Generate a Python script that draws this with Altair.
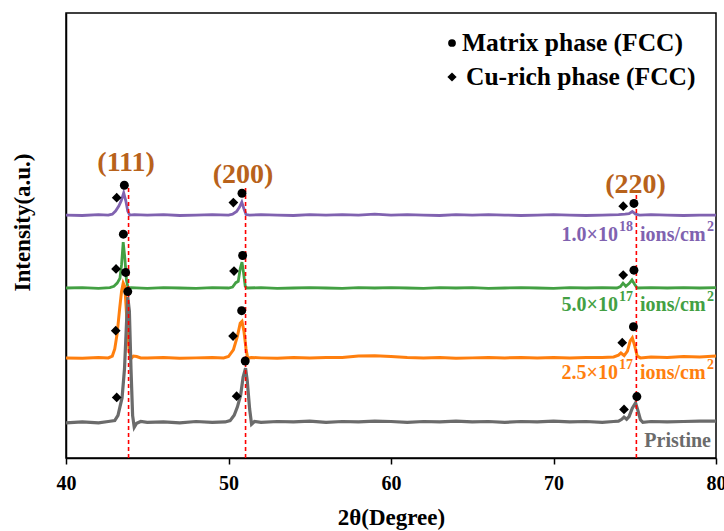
import altair as alt
import pandas as pd

FONT = "Liberation Serif"

# ---- XRD patterns (2θ, stacked intensity in a.u.) ----
pristine_pts = [(40, 7.9), (41, 8.1), (42, 7.9), (42.6, 8.2), (43.0, 8.4), (43.2, 9.6), (43.32, 11.5),
                (43.45, 13.5), (43.6, 20), (43.72, 30), (43.8, 36.2), (43.9, 33), (44.0, 20), (44.1, 9.5),
                (44.2, 6.9), (44.35, 7.8), (44.6, 8.2), (45, 8.0), (46, 8.1), (47, 7.9), (48, 8.2), (49, 8.0),
                (49.8, 8.1), (50.1, 8.4), (50.35, 9.6), (50.55, 11.5), (50.75, 14.2), (50.9, 18.2), (51.05, 20.2),
                (51.15, 17.5), (51.3, 11), (51.42, 7.6), (51.6, 8.2), (52, 8.0), (53, 8.2), (54, 8.1), (55, 8.3),
                (56, 8.0), (57, 8.2), (58, 8.1), (59, 8.3), (60, 8.2), (61, 8.0), (62, 8.2), (63, 8.1), (64, 8.3),
                (65, 8.1), (66, 8.2), (67, 8.0), (68, 8.2), (69, 8.1), (70, 8.3), (71, 8.1), (72, 8.2), (73, 8.0),
                (73.7, 8.2), (74.0, 8.3), (74.2, 8.7), (74.34, 9.2), (74.5, 8.7), (74.65, 9.3), (74.85, 11.2),
                (75.05, 12.4), (75.2, 10.6), (75.35, 8.6), (75.5, 8.0), (76, 8.2), (77, 8.1), (78, 8.2),
                (79, 8.3), (80, 8.3)]

dose25_pts = [(40, 22.5), (41, 22.4), (42, 22.6), (42.6, 22.5), (42.85, 22.9), (43.0, 24.5), (43.15, 28),
              (43.3, 33.5), (43.42, 37.5), (43.52, 39.3), (43.62, 38.5), (43.75, 31), (43.88, 24), (44.0, 22.3),
              (44.15, 22.9), (44.35, 22.8), (44.6, 22.5), (45, 22.5), (46, 22.6), (47, 22.4), (48, 22.5),
              (49, 22.6), (49.7, 22.5), (50.0, 22.8), (50.3, 24.3), (50.55, 27.4), (50.72, 30.3), (50.83, 30.7),
              (50.95, 28.5), (51.08, 24.5), (51.18, 22.4), (51.4, 22.6), (52, 22.5), (53, 22.4), (54, 22.6),
              (55, 22.5), (56, 22.6), (57, 22.6), (58, 22.9), (59, 23.0), (60, 22.8), (61, 22.6), (62, 22.5),
              (63, 22.6), (64, 22.4), (65, 22.5), (66, 22.6), (67, 22.5), (68, 22.6), (69, 22.5), (70, 22.6),
              (71, 22.5), (72, 22.6), (73, 22.6), (73.7, 22.7), (74.0, 23.1), (74.15, 23.6), (74.35, 23.0),
              (74.55, 24.0), (74.72, 26.3), (74.85, 27.0), (75.0, 25.2), (75.15, 22.9), (75.35, 22.5),
              (76, 22.7), (77, 22.6), (78, 22.8), (79, 22.7), (80, 22.9)]

dose50_pts = [(40, 38.2), (41, 38.3), (42, 38.1), (42.7, 38.3), (42.95, 38.6), (43.15, 39.3), (43.32, 40.4),
              (43.42, 43.5), (43.52, 48.5), (43.62, 45), (43.72, 40), (43.82, 38.2), (44, 38.3), (45, 38.1),
              (46, 38.3), (47, 38.2), (48, 38.1), (49, 38.3), (50, 38.2), (50.25, 38.4), (50.45, 39.4),
              (50.6, 39.7), (50.72, 42.5), (50.83, 44.0), (50.93, 41.5), (51.03, 38.6), (51.15, 38.2),
              (52, 38.3), (53, 38.1), (54, 38.2), (55, 38.3), (56, 38.2), (57, 38.1), (58, 38.3), (59, 38.2),
              (60, 38.3), (61, 38.2), (62, 38.1), (63, 38.3), (64, 38.2), (65, 38.3), (66, 38.1), (67, 38.2),
              (68, 38.3), (69, 38.2), (70, 38.1), (71, 38.3), (72, 38.2), (73, 38.3), (73.9, 38.2),
              (74.12, 38.5), (74.28, 39.3), (74.45, 38.6), (74.65, 39.2), (74.83, 40.0), (75.0, 39.0),
              (75.15, 38.2), (76, 38.3), (77, 38.2), (78, 38.3), (79, 38.2), (80, 38.3)]

dose100_pts = [(40, 54.6), (41, 54.5), (42, 54.7), (42.6, 54.6), (42.85, 54.8), (43.05, 55.5), (43.25, 56.6),
               (43.4, 57.8), (43.55, 59.6), (43.68, 57.8), (43.8, 55.5), (43.92, 54.6), (44.2, 54.7), (45, 54.6),
               (46, 54.7), (47, 54.5), (48, 54.6), (49, 54.7), (50, 54.6), (50.25, 54.8), (50.5, 55.4),
               (50.68, 56.4), (50.82, 57.5), (50.95, 56.0), (51.08, 54.7), (51.3, 54.6), (52, 54.7), (53, 54.6),
               (54, 54.5), (55, 54.7), (56, 54.6), (57, 54.7), (58, 54.6), (59, 54.8), (60, 54.6), (61, 54.7),
               (62, 54.6), (63, 54.5), (64, 54.7), (65, 54.6), (66, 54.7), (67, 54.6), (68, 54.5), (69, 54.6),
               (70, 54.7), (71, 54.6), (72, 54.5), (73, 54.6), (74, 54.7), (74.4, 54.8), (74.65, 54.9),
               (74.85, 55.4), (75.05, 54.8), (75.3, 54.6), (76, 54.7), (77, 54.6), (78, 54.5), (79, 54.6),
               (80, 54.6)]

# phase markers
matrix_pts = [(43.59, 61.3), (50.83, 59.5), (74.95, 57.2), (43.53, 50.3), (50.87, 45.5), (74.95, 42.2),
              (43.67, 41.7), (50.81, 33.1), (74.92, 29.5), (43.80, 37.4), (51.03, 21.8), (75.13, 13.8)]
curich_pts = [(43.12, 58.5), (50.30, 57.4), (74.29, 56.6), (43.08, 42.5), (50.34, 42.0), (74.29, 41.1),
              (43.06, 28.6), (50.28, 27.4), (74.23, 25.9), (43.12, 13.6), (50.50, 13.9), (74.34, 10.9)]

# reference peak lines and labels
peak_pos = [43.85, 51.05, 75.1]
peak_bottom = [0, 0, 0]
peak_top = [60.9, 60.7, 59.8]
peak_label = ["(111)", "(200)", "(220)"]
peak_label_x = [43.7, 50.9, 75.05]
peak_label_y = [66.3, 63.6, 61.3]

series_colors = {"1.0e18": "#8062B0", "5.0e17": "#43A043", "2.5e17": "#FF7F0E", "Pristine": "#6B6B6B"}


def to_df(pts):
    return pd.DataFrame({"x": [p[0] for p in pts], "y": [p[1] for p in pts]})


x_axis = alt.Axis(values=[40, 50, 60, 70, 80], title="2θ(Degree)", grid=False,
                  labelFont=FONT, labelFontSize=20, labelFontWeight="bold", labelColor="black",
                  labelFlush=False, labelPadding=9,
                  titleFont=FONT, titleFontSize=23, titleFontWeight="bold", titleColor="black",
                  titleY=59, titleBaseline="middle",
                  tickSize=6, tickWidth=1.5, tickColor="black",
                  domainColor="black", domainWidth=1.5)
y_axis = alt.Axis(title="Intensity(a.u.)", grid=False, labels=False, ticks=False,
                  titleFont=FONT, titleFontSize=23, titleFontWeight="bold", titleColor="black",
                  titleX=-44, titleY=209, titleAngle=-90, titleAlign="center", titleBaseline="middle",
                  domainColor="black", domainWidth=1.5)
xs = alt.Scale(domain=[40, 80], nice=False, zero=False)
ys = alt.Scale(domain=[0, 100], nice=False, zero=False)


def line_layer(pts, color, w):
    return alt.Chart(to_df(pts)).mark_line(color=color, strokeWidth=w, clip=True).encode(
        x=alt.X("x:Q", scale=xs, axis=x_axis),
        y=alt.Y("y:Q", scale=ys, axis=y_axis),
        order="x:Q",
    )


layers = [
    line_layer(dose100_pts, series_colors["1.0e18"], 2.8),
    line_layer(dose50_pts, series_colors["5.0e17"], 2.8),
    line_layer(dose25_pts, series_colors["2.5e17"], 3.0),
    line_layer(pristine_pts, series_colors["Pristine"], 3.2),
]

rules = alt.Chart(pd.DataFrame({"x": peak_pos, "b": peak_bottom, "top": peak_top})).mark_rule(
    color="#FF0000", strokeDash=[4, 3], strokeWidth=1.6).encode(
    x=alt.X("x:Q", scale=xs), y=alt.Y("b:Q", scale=ys), y2="top:Q")

labels = alt.Chart(pd.DataFrame({"x": peak_label_x, "y": peak_label_y, "t": peak_label})).mark_text(
    font=FONT, fontSize=28, fontWeight="bold", color="#B8621B", baseline="middle", align="center").encode(
    x=alt.X("x:Q", scale=xs), y=alt.Y("y:Q", scale=ys), text="t:N")

circles = alt.Chart(to_df(matrix_pts)).mark_point(shape="circle", filled=True, color="black",
                                                   opacity=1, size=80).encode(
    x=alt.X("x:Q", scale=xs), y=alt.Y("y:Q", scale=ys))
diamonds = alt.Chart(to_df(curich_pts)).mark_point(shape="diamond", filled=True, color="black",
                                                    opacity=1, size=95).encode(
    x=alt.X("x:Q", scale=xs), y=alt.Y("y:Q", scale=ys))

layers += [rules, diamonds, circles, labels]

# legend (top right), placed in pixel units
legend_text = ["Matrix phase (FCC)", "Cu-rich phase (FCC)"]
layers.append(alt.Chart(pd.DataFrame({"a": [0]})).mark_point(shape="circle", filled=True, color="black",
                                                              opacity=1, size=60).encode(
    x=alt.value(386), y=alt.value(30)))
layers.append(alt.Chart(pd.DataFrame({"a": [0]})).mark_point(shape="diamond", filled=True, color="black",
                                                              opacity=1, size=85).encode(
    x=alt.value(386), y=alt.value(64)))
layers.append(alt.Chart(pd.DataFrame({"t": [legend_text[0]]})).mark_text(
    font=FONT, fontSize=25.5, fontWeight="bold", color="black", align="left", baseline="middle").encode(
    x=alt.value(396), y=alt.value(30), text="t:N"))
layers.append(alt.Chart(pd.DataFrame({"t": [legend_text[1]]})).mark_text(
    font=FONT, fontSize=25.5, fontWeight="bold", color="black", align="left", baseline="middle").encode(
    x=alt.value(400), y=alt.value(64), text="t:N"))

# series labels with superscripts
dose_main = ["1.0×10", "5.0×10", "2.5×10"]
dose_exp = ["18", "17", "17"]
dose_keys = ["1.0e18", "5.0e17", "2.5e17"]
dose_label_y = [222, 292, 360]
for m, e, k, yy in zip(dose_main, dose_exp, dose_keys, dose_label_y):
    c = series_colors[k]
    base = dict(font=FONT, fontWeight="bold", color=c, baseline="middle")
    layers.append(alt.Chart(pd.DataFrame({"t": [m]})).mark_text(fontSize=20, align="right", **base).encode(
        x=alt.value(552), y=alt.value(yy), text="t:N"))
    layers.append(alt.Chart(pd.DataFrame({"t": [e]})).mark_text(fontSize=14, align="left", **base).encode(
        x=alt.value(553), y=alt.value(yy - 8), text="t:N"))
    layers.append(alt.Chart(pd.DataFrame({"t": ["ions/cm"]})).mark_text(fontSize=20, align="left", **base).encode(
        x=alt.value(574), y=alt.value(yy), text="t:N"))
    layers.append(alt.Chart(pd.DataFrame({"t": ["2"]})).mark_text(fontSize=14, align="left", **base).encode(
        x=alt.value(641), y=alt.value(yy - 8), text="t:N"))
layers.append(alt.Chart(pd.DataFrame({"t": ["Pristine"]})).mark_text(
    font=FONT, fontSize=20, fontWeight="bold", color=series_colors["Pristine"], align="right",
    baseline="middle").encode(x=alt.value(645), y=alt.value(428), text="t:N"))

chart = alt.layer(*layers).properties(
    width=650, height=445,
    autosize=alt.AutoSizeParams(type="none"),
    padding={"left": 66, "top": 13, "right": 8, "bottom": 73},
    background="white",
).configure_view(stroke="black", strokeWidth=1.5)

chart.save("out.html", embed_options={"renderer": "svg", "actions": False})
